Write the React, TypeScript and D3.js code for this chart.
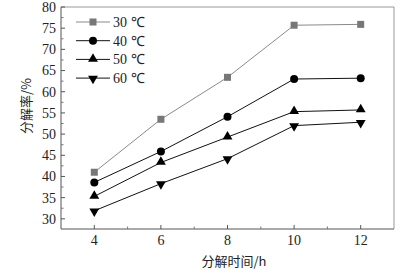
import React from "react";
import * as d3 from "d3";

const times = [4, 6, 8, 10, 12];
const s30 = [41.0, 53.5, 63.4, 75.7, 75.9];
const s40 = [38.6, 45.9, 54.1, 63.0, 63.2];
const s50 = [35.3, 43.3, 49.3, 55.3, 55.7];
const s60 = [31.9, 38.3, 44.2, 52.0, 52.8];
const seriesNames = ["30 ℃", "40 ℃", "50 ℃", "60 ℃"];
const xTicks = [4, 6, 8, 10, 12];
const yTicks = [30, 35, 40, 45, 50, 55, 60, 65, 70, 75, 80];

const W = 413, H = 273;
const m = { left: 61, top: 7, right: 394, bottom: 229 };

export default function App() {
  const x = d3.scaleLinear().domain([3, 13]).range([m.left, m.right]);
  const y = d3.scaleLinear().domain([27.6, 80]).range([m.bottom, m.top]);
  const line = d3.line<number>().x((_, i) => x(times[i])).y((v) => y(v));
  const all = [s30, s40, s50, s60];
  const colors = ["#8a8a8a", "#111", "#111", "#111"];
  const mcol = ["#777", "#000", "#000", "#000"];
  const serif = { fontFamily: "Liberation Serif, Times New Roman, serif" };
  const cjk = { fontFamily: "Noto Sans CJK SC, sans-serif" };

  const marker = (k: number, cx: number, cy: number, key: string) => {
    if (k === 0) return <rect key={key} x={cx - 3.5} y={cy - 3.5} width={7} height={7} fill={mcol[0]} />;
    if (k === 1) return <circle key={key} cx={cx} cy={cy} r={4} fill="#000" />;
    const sym = d3.symbol().type(d3.symbolTriangle).size(42)();
    return <path key={key} d={sym || ""} transform={`translate(${cx},${cy + (k === 3 ? 0.5 : -0.5)}) rotate(${k === 3 ? 180 : 0})`} fill="#000" />;
  };

  const minorX = d3.range(3, 13.01, 1).filter((v) => !xTicks.includes(v) && v > 3 && v < 13);
  const minorY = d3.range(27.5, 80, 2.5).filter((v) => v > 27.6 && !yTicks.includes(v));

  return (
    <svg width={W} height={H} style={{ position: "absolute", left: 0, top: 0, background: "#fff" }}>
      <rect x={0} y={0} width={W} height={H} fill="#fff" />
      <line x1={m.left} x2={m.right} y1={m.top} y2={m.top} stroke="#999" strokeWidth={1} />
      <line x1={m.right} x2={m.right} y1={m.top} y2={m.bottom} stroke="#999" strokeWidth={1} />
      <line x1={m.left} x2={m.left} y1={m.top} y2={m.bottom} stroke="#555" strokeWidth={1} />
      <line x1={m.left} x2={m.right} y1={m.bottom} y2={m.bottom} stroke="#555" strokeWidth={1} />
      {yTicks.map((t) => (
        <g key={"y" + t}>
          <line x1={m.left} x2={m.left + 4} y1={y(t)} y2={y(t)} stroke="#555" />
          <text x={m.left - 5} y={y(t)} dy="0.35em" textAnchor="end" style={serif} fontSize={14} fill="#222">{t}</text>
        </g>
      ))}
      {minorY.map((t) => (
        <line key={"my" + t} x1={m.left} x2={m.left + 2.5} y1={y(t)} y2={y(t)} stroke="#777" />
      ))}
      {xTicks.map((t) => (
        <g key={"x" + t}>
          <line x1={x(t)} x2={x(t)} y1={m.bottom} y2={m.bottom - 4} stroke="#555" />
          <text x={x(t)} y={m.bottom + 16} textAnchor="middle" style={serif} fontSize={14} fill="#222">{t}</text>
        </g>
      ))}
      {minorX.map((t) => (
        <line key={"mx" + t} x1={x(t)} x2={x(t)} y1={m.bottom} y2={m.bottom - 2.5} stroke="#777" />
      ))}
      {all.map((s, k) => (
        <path key={"l" + k} d={line(s) || ""} fill="none" stroke={colors[k]} strokeWidth={1} />
      ))}
      {all.map((s, k) => s.map((v, i) => marker(k, x(times[i]), y(v), `m${k}-${i}`)))}
      {seriesNames.map((n, k) => {
        const ly = 22 + k * 18.7;
        return (
          <g key={"lg" + k}>
            <line x1={76} x2={110} y1={ly} y2={ly} stroke={colors[k]} strokeWidth={1} />
            {marker(k, 93, ly, "lm" + k)}
            <text x={113} y={ly} dy="0.35em" style={serif} fontSize={14} fill="#222">{n}</text>
          </g>
        );
      })}
      <text x={234} y={266} textAnchor="middle" style={cjk} fontSize={13} fill="#222">分解时间/h</text>
      <text transform={`translate(31,106) rotate(-90)`} textAnchor="middle" style={cjk} fontSize={13} fill="#222">分解率/%</text>
    </svg>
  );
}
